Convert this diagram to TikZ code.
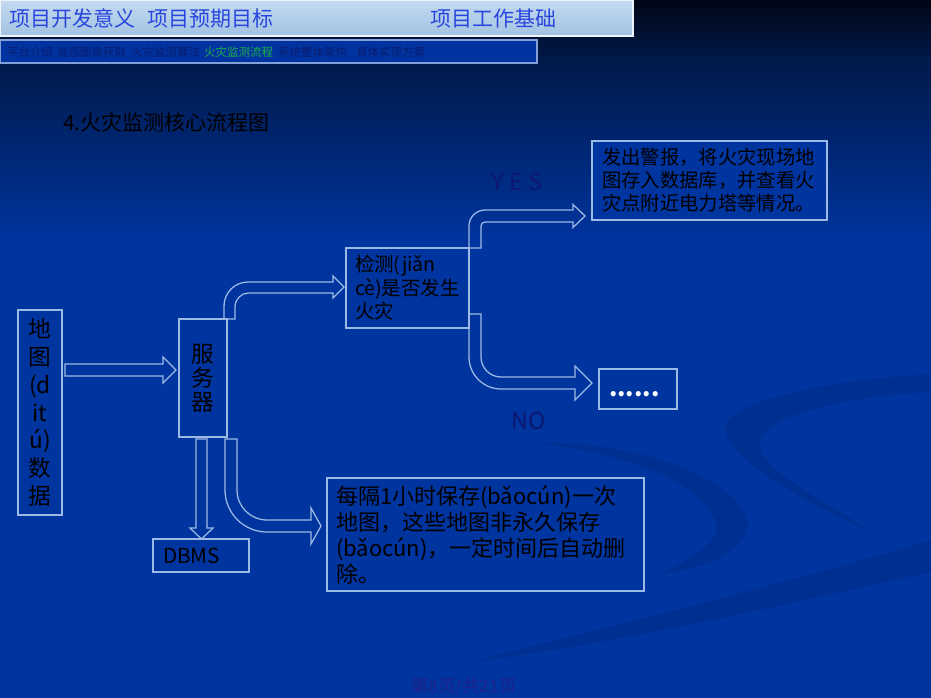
\documentclass[tikz,border=0pt]{standalone}
\usepackage{fontspec}
\setmainfont{Noto Sans CJK SC}
\usetikzlibrary{calc}
\definecolor{bgtop}{RGB}{0,6,22}
\definecolor{bgmid}{RGB}{0,26,76}
\definecolor{bgbot}{RGB}{0,52,158}
\definecolor{swoosh}{RGB}{0,40,128}
\definecolor{barlight}{RGB}{196,218,240}
\definecolor{bardark}{RGB}{162,194,226}
\definecolor{bartext}{RGB}{40,70,222}
\definecolor{bartwo}{RGB}{0,50,160}
\definecolor{bartwoline}{RGB}{130,160,215}
\definecolor{navtext}{RGB}{10,28,110}
\definecolor{navgreen}{RGB}{30,176,72}
\definecolor{edge}{RGB}{156,186,230}
\definecolor{boxfill}{RGB}{0,52,158}
\definecolor{labelc}{RGB}{12,24,112}
\definecolor{footc}{RGB}{30,34,140}
\tikzset{
  fbox/.style={draw=edge, line width=1.1pt, fill=boxfill, inner ysep=0pt, align=left},
  blockarrow/.style={draw=edge, line width=0.95pt, line join=miter},
  navitem/.style={anchor=west, inner sep=0pt, font=\fontsize{8.6pt}{10pt}\selectfont, text=navtext},
  toptitle/.style={anchor=west, inner sep=0pt, font=\fontsize{15.75pt}{18pt}\selectfont, text=bartext},
  yesno/.style={inner sep=0pt, text=labelc, font=\fontsize{17.5pt}{20pt}\selectfont},
  swooshfill/.style={fill=swoosh, opacity=0.4}
}
\begin{document}
\begin{tikzpicture}[x=0.75pt,y=-0.75pt]
\useasboundingbox (0,0) rectangle (931,698);
% background gradient
\foreach \k in {0,...,15}{
  \pgfmathtruncatemacro\p{100-\k*100/15}
  \fill[bgtop!\p!bgmid] (0,\k*4) rectangle (931,\k*4+5);
}
\foreach \k in {0,...,44}{
  \pgfmathtruncatemacro\p{100-\k*100/44}
  \fill[bgmid!\p!bgbot] (0,64+\k*4) rectangle (931,64+\k*4+5);
}
\fill[bgbot] (0,240) rectangle (931,698);
% decorative swooshes
\fill[swooshfill] (535,443) .. controls (660,440) and (765,495) .. (745,535)
   .. controls (732,558) and (695,570) .. (661,573)
   .. controls (695,558) and (722,540) .. (716,522)
   .. controls (700,480) and (620,452) .. (535,443) -- cycle;
\fill[swooshfill] (931,374) .. controls (800,382) and (715,408) .. (726,434)
   .. controls (738,468) and (820,508) .. (872,533)
   .. controls (830,502) and (752,468) .. (760,440)
   .. controls (770,414) and (850,396) .. (931,392) -- cycle;
\fill[swooshfill] (470,662) .. controls (680,610) and (840,568) .. (931,540)
   -- (931,572) .. controls (800,600) and (640,640) .. (470,662) -- cycle;
% top bar
\shade[top color=barlight, bottom color=bardark] (0,0) rectangle (633,36);
\draw[draw=white!70!barlight, line width=0.8pt] (0,0) rectangle (633,36);
\node[toptitle] (t1) at (9,18.5) {项目开发意义};
\node[toptitle] (t2) at (147,18.5) {项目预期目标};
\node[toptitle] (t3) at (430,18.5) {项目工作基础};
% second bar
\draw[fill=bartwo, draw=bartwoline, line width=0.8pt] (0,40) rectangle (537,63);
\node[navitem] (n1) at (7,52) {平台介绍};
\node[navitem] (n2) at (57,52) {遥感图像获取};
\node[navitem] (n3) at (131,52) {火灾监测算法};
\node[navitem, text=navgreen] (n4) at (204,52) {火灾监测流程};
\node[navitem] (n5) at (278,52) {系统整体架构};
\node[navitem] (n6) at (356,52) {具体实现方案};
% title
\node[anchor=west, inner sep=0pt, font=\fontsize{15.75pt}{18pt}\selectfont] (title) at (63,122) {4.火灾监测核心流程图};
% boxes
\node[fbox, align=center, text width=33pt, inner xsep=0pt, minimum height=153.75pt,
      font=\fontsize{17pt}{20.8pt}\selectfont] (map) at (40,412.5) {地\\图\\(d\\it\\ú)\\数\\据};
\node[fbox, align=center, text width=36pt, inner xsep=0pt, minimum height=88.5pt,
      font=\fontsize{17pt}{18pt}\selectfont] (srv) at (203,378) {服\\务\\器};
\node[fbox, text width=78.75pt, inner xsep=6.75pt, minimum height=60pt,
      font=\fontsize{14.6pt}{17.6pt}\selectfont] (det) at (407.5,288) {检测(jiǎn\\cè)是否发生\\火灾};
\node[fbox, text width=161.25pt, inner xsep=7.5pt, minimum height=59.25pt,
      font=\fontsize{14.5pt}{17.25pt}\selectfont] (alarm) at (709.5,180.5)
      {发出警报，将火灾现场地\\图存入数据库，并查看火\\灾点附近电力塔等情况。};
\node[fbox, text width=43.5pt, inner xsep=7.5pt, minimum height=30pt, text height=13pt, text depth=1pt,
      text=white, font=\fontsize{18pt}{20pt}\selectfont\bfseries] (dots) at (638,389) {......};
\node[fbox, text width=57pt, inner xsep=7.5pt, minimum height=24.75pt,
      font=\fontsize{15.5pt}{18pt}\selectfont] (dbms) at (201,555.5) {DBMS};
\node[fbox, text width=224.25pt, inner xsep=6.75pt, minimum height=84.75pt,
      font=\fontsize{16.5pt}{19.5pt}\selectfont] (save) at (485.5,534.5)
      {每隔1小时保存(bǎocún)一次\\地图，这些地图非永久保存\\(bǎocún)，一定时间后自动删\\除。};
% block arrows
% map -> server
\draw[blockarrow] (65,364) -- (163,364) -- (163,357) -- (176,370) -- (163,383) -- (163,376) -- (65,376) -- cycle;
% server -> detect
\draw[blockarrow] (224,319) -- (224,306) .. controls (224,292.75) and (234.75,282) .. (248,282)
   -- (333,282) -- (333,276) -- (344,287) -- (333,298) -- (333,293) -- (248,293)
   .. controls (240.8,293) and (235,300.2) .. (235,306) -- (235,319) -- cycle;
% server -> DBMS
\draw[blockarrow] (196,439) -- (196,528) -- (190,528) -- (201.5,539) -- (213,528) -- (207,528) -- (207,439) -- cycle;
% server -> save
\draw[blockarrow] (225,439) -- (225,490) .. controls (225,513.2) and (243.8,532) .. (267,532)
   -- (311,532) -- (311,544) -- (321,526) -- (311,508) -- (311,520) -- (267,520)
   .. controls (250.4,520) and (237,506.6) .. (237,490) -- (237,439) -- cycle;
% detect -> alarm (YES)
\draw[blockarrow] (469,248) -- (469,226) .. controls (469,217.2) and (476.2,210) .. (485,210)
   -- (573,210) -- (573,204.5) -- (585,216) -- (573,227.5) -- (573,222) -- (485,222)
   .. controls (482.8,222) and (481,223.8) .. (481,226) -- (481,248) -- cycle;
% detect -> dots (NO)
\draw[blockarrow] (469,314) -- (469,357) .. controls (469,374.66) and (483.34,389) .. (501,389)
   -- (575,389) -- (575,400) -- (592,383) -- (575,366) -- (575,377) -- (501,377)
   .. controls (489.96,377) and (481,368.04) .. (481,357) -- (481,314) -- cycle;
% labels
\node[yesno] (yes) at (517,182) {Y E S};
\node[yesno] (no) at (529,421) {NO};
% footer
\node[inner sep=0pt, text=footc, font=\fontsize{13pt}{15pt}\selectfont] (foot) at (464,687) {第8页/共21页};
\end{tikzpicture}
\end{document}
